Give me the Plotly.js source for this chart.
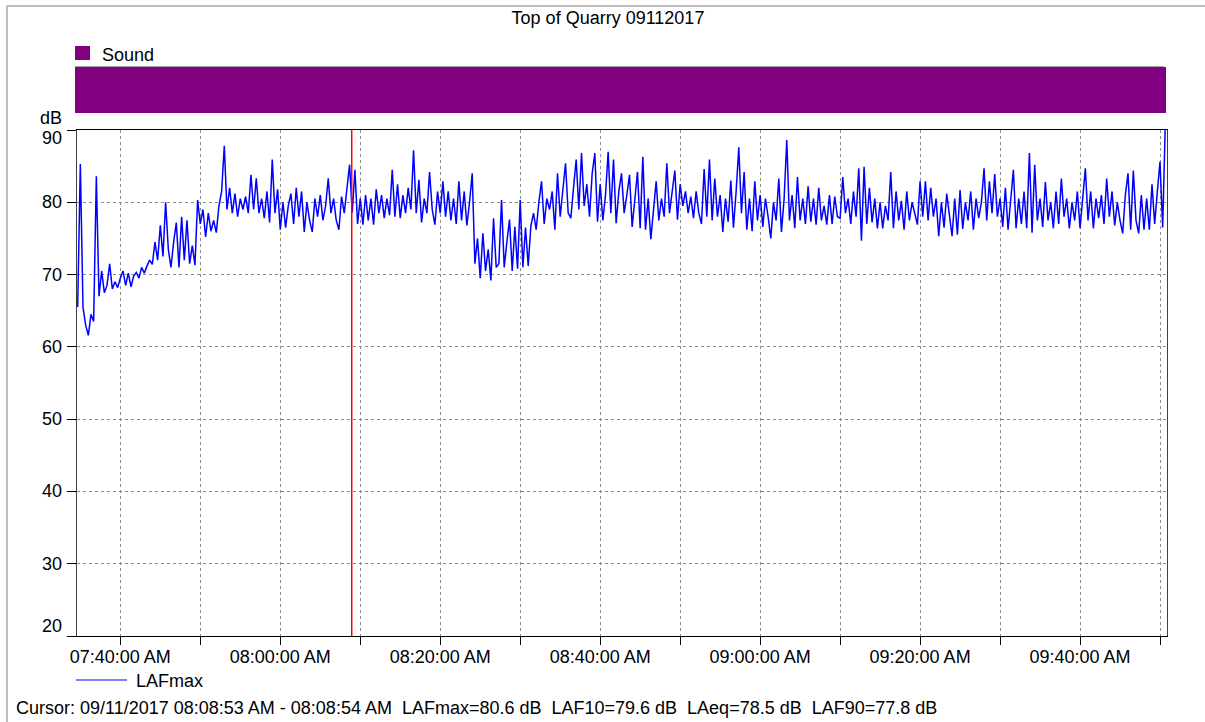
<!DOCTYPE html>
<html><head><meta charset="utf-8">
<script src="https://cdn.plot.ly/plotly-3.0.1.min.js"></script>
<style>html,body{margin:0;padding:0;background:#fff;}#chart{width:1205px;height:722px;}</style>
</head><body><div id="chart"></div>
<script>
// ---- text ----
const chartTitle = 'Top of Quarry 09112017';
const seriesName = 'LAFmax';
const bandLabel = 'Sound';
const yUnit = 'dB';
const cursorText = 'Cursor: 09/11/2017 08:08:53 AM - 08:08:54 AM  LAFmax=80.6 dB  LAF10=79.6 dB  LAeq=78.5 dB  LAF90=77.8 dB';
const cursorTime = '2017-09-11 08:08:56';

// ---- time base ----
const day = '2017-09-11';
const startTime = '07:34:40';
const stepSeconds = 20;
const xRange = ['2017-09-11 07:34:35', '2017-09-11 09:50:52.5'];

// ---- LAFmax values (dB), one every 20 s ----
const lafmax0734 = [65.5,85.3,65.5,63,61.6,64.5,63.5,83.6,67,70.5,
  67.5,68.5,71.5,68,69,68.2,69.5,70.5,68.5,70.2,
  68.3,69.8,70.3,69.5,71,70.2,71.2,72,71.4,74.5,
  72,76.8,72.5,80,73.5,71,74.5,77.2,71,78,
  72,77.5,71.5,74,71.3,80.3,77,79,75.2,78.5,
  76,77.5,75.8,79.5,81.5,87.8,79,82,78.5,81.2,
  78,80.5,79,80.8,78.5,83.8,79];
const lafmax0757 = [83.3,78.5,80.5,77.8,81.5,77.2,85.9,78.5,81.8,76.2,
  80,76.5,79.5,81.2,77,82,78,81.5,75.9,80,
  77.5,75.9,80.5,78,81,77.5,79.5,83.3,78.5,80.5,
  77.5,76.2,80.8,78.5,81.5,85.2,78.6,84.5,77,80.5,
  76.9,81,77.5,80.5,76.9,81.8,78.5,81,77.8,80.5,
  78.2,84.5,78,82.5,77.8,81,78.5,82,79,87.2,
  78.5,83.1,77.2,80.5,78.5,84.2,79,76.9,81.5,78.5,
  82.9,78];
const lafmax0821 = [81.5,77.5,80.5,77,82.9,77.5,81.5,76.8,80,84,
  71.5,75,69.5,75.7,70.5,73.5,69.2,77.8,71,71.5,
  80.3,71,74.5,77.6,70.5,76.6,70.8,80.3,71,76.5,
  71.2,76.7,78.5,76.2,80,82.9,77,80.5,79,81.5,
  76.2,84,78,81.5,85.4,78.5,77.8,82,85.9,79,
  86.8,79.5,82.5,78,84,86.8,77.3,82.5,77.5,81,
  87,78.5,85.9,77.1,81.5,84,78.5,81];
const lafmax0843 = [83.8,76.6,80.5,84.2,76.4,86.3,76.2,80.5,74.9,79,
  82.9,77.5,80.5,78,85.4,78.5,81.5,84.4,77.6,82.5,
  79.5,81.5,78.5,80.8,77.8,81.5,78.5,77,84.6,78,
  85.9,77.5,83.3,78,81,75.9,80.5,77.3,83,76.5,
  81.5,87.6,78.5,84.2,76.2,80.5,76,82.9,77.5,81,
  76.6,80.5,78,75,80,77.5,83.3,75.9,80.5,88.6,
  77.5,81,76.4,83.5,77.5,80.5,77,82.2,77.3];
const lafmax0906 = [80.5,76.9,82,77.5,79.5,76.9,81,77,80.8,78,
  77.8,83.5,78.5,80.5,77,81.5,78,84.7,74.7,84.9,
  77,82,77.2,80.5,76.4,80,76.4,79.5,77.5,84.2,
  76.4,81.5,77.5,80.2,76.2,81.5,77.5,80,78.5,76.9,
  82.9,78,82.9,77.5,82,78,80.5,75.3,80,76.5,
  81.2,77.8,75.3,80.5,75.5,81.7,76.3,80,77.5,81.5,
  76.2,80.5,77.8,80,84.7,77.5,82.9,78.5,83.9,78];
const lafmax0930 = [80.5,76.6,82,76.2,80,84.5,76.4,80.5,77,81.5,
  76.4,86.8,75.8,85.2,77.5,80.5,76.6,82.8,77.5,80,
  76.4,81.5,77,83.3,78,80.5,76.4,80,77.5,81.5,
  76.4,80.5,84.7,77.5,81.5,76.4,80.5,77.8,81,77,
  83.3,78,81.5,76.8,80,77.5,75.7,81,84,76.2,
  84.4,77.5,75.7,81,76.2,80.5,76.2,82.5,77,81.5,
  85.6,76.5,91];

// ---- axes ----
const yTicks = [20,30,40,50,60,70,80,90];
const xTickTimes = ['07:40','07:50','08:00','08:10','08:20','08:30','08:40','08:50','09:00','09:10','09:20','09:30','09:40','09:50'];
const xTickLabels = ['07:40:00 AM','','08:00:00 AM','','08:20:00 AM','','08:40:00 AM','','09:00:00 AM','','09:20:00 AM','','09:40:00 AM',''];

const values = [].concat(lafmax0734, lafmax0757, lafmax0821, lafmax0843, lafmax0906, lafmax0930);
function pad(n){return (n<10?'0':'')+n;}
const sp = startTime.split(':').map(Number);
const startSec = sp[0]*3600+sp[1]*60+sp[2];
const times = values.map((v,i)=>{
  const s = startSec + i*stepSeconds;
  return day+' '+pad(Math.floor(s/3600))+':'+pad(Math.floor(s/60)%60)+':'+pad(s%60);
});

const FONT = 'Liberation Sans, Arial, sans-serif';
const FS = 18;
const W = 1205, H = 722, L = 77, R = 38, T = 130, B = 86;
const PW = W-L-R, PH = H-T-B;
const px = x => (x-L)/PW;          // pixel -> paper x
const py = y => (H-B-y)/PH;        // pixel -> paper y

const trace = {
  x: times, y: values, type: 'scatter', mode: 'lines', name: seriesName,
  line: {color: '#0000ff', width: 1.5}, showlegend: false, hoverinfo: 'x+y'
};

const shapes = [
  // outer frame
  {type:'line', xref:'paper', yref:'paper', x0:px(7), x1:px(7), y0:py(6), y1:py(730), line:{color:'#808080', width:1}},
  {type:'line', xref:'paper', yref:'paper', x0:px(7), x1:px(1215), y0:py(6), y1:py(6), line:{color:'#808080', width:1}},
  // purple band
  {type:'rect', xref:'paper', yref:'paper', x0:px(75), x1:px(1166), y0:py(113), y1:py(67), fillcolor:'#800080', line:{width:0}},
  {type:'line', xref:'paper', yref:'paper', x0:px(75), x1:px(1164), y0:py(67), y1:py(67), line:{color:'#404040', width:1}},
  // Sound legend square
  {type:'rect', xref:'paper', yref:'paper', x0:px(75), x1:px(90), y0:py(60), y1:py(46), fillcolor:'#800080', line:{width:0}},
  // LAFmax legend line
  {type:'line', xref:'paper', yref:'paper', x0:px(76), x1:px(127), y0:py(680), y1:py(680), line:{color:'#0000ff', width:1}},
  // cursor
  {type:'line', xref:'x', yref:'paper', x0:cursorTime, x1:cursorTime, y0:0, y1:1, layer:'above', line:{color:'#ff0000', width:1.5}}
];

const annotations = [
  {xref:'paper', yref:'paper', x:px(100), y:py(55), xanchor:'left', yanchor:'middle', text:bandLabel, showarrow:false, font:{family:FONT, size:FS, color:'#000'}},
  {xref:'paper', yref:'paper', x:px(134), y:py(681), xanchor:'left', yanchor:'middle', text:seriesName, showarrow:false, font:{family:FONT, size:FS, color:'#000'}},
  {xref:'paper', yref:'paper', x:px(14), y:py(708), xanchor:'left', yanchor:'middle', text:cursorText.replace(/  /g,'\u00a0 '), showarrow:false, font:{family:FONT, size:FS, color:'#000'}},
  {xref:'paper', yref:'paper', x:px(64), y:py(118), xanchor:'right', yanchor:'middle', text:yUnit, showarrow:false, font:{family:FONT, size:FS, color:'#000'}}
];
yTicks.forEach(v=>{
  annotations.push({xref:'paper', yref:'y', x:px(64), y:v, xanchor:'right', yanchor:'middle',
    yshift: v===yTicks[yTicks.length-1] ? -8 : (v===yTicks[0] ? 10 : 0),
    text:String(v), showarrow:false, font:{family:FONT, size:FS, color:'#000'}});
});

const layout = {
  width: W, height: H,
  margin: {l:L, r:R, t:T, b:B, pad:0},
  paper_bgcolor: '#fff', plot_bgcolor: '#fff',
  font: {family: FONT, size: FS, color: '#000'},
  title: {text: chartTitle, xref:'container', yref:'container', x: 608/W, y: 1-18/H, xanchor:'center', yanchor:'middle', font:{family:FONT, size:FS, color:'#000'}},
  showlegend: false,
  xaxis: {
    type:'date', range: xRange, fixedrange:true,
    tickmode:'array', tickvals: xTickTimes.map(t=>day+' '+t), ticktext: xTickLabels,
    ticks:'outside', ticklen:8, tickcolor:'#000', tickwidth:1, ticklabelstandoff:-4,
    showgrid:true, gridcolor:'#8c8c8c', griddash:'dot', gridwidth:1,
    showline:true, linecolor:'#000', linewidth:1, mirror:true,
    zeroline:false, tickfont:{family:FONT, size:FS, color:'#000'}
  },
  yaxis: {
    range:[20,90], fixedrange:true,
    tickmode:'array', tickvals:yTicks, showticklabels:false,
    ticks:'outside', ticklen:9, tickcolor:'#000', tickwidth:1,
    showgrid:true, gridcolor:'#8c8c8c', griddash:'dot', gridwidth:1,
    showline:true, linecolor:'#404040', linewidth:1, mirror:true, zeroline:false
  },
  shapes: shapes,
  annotations: annotations
};

Plotly.newPlot('chart', [trace], layout, {displayModeBar:false, staticPlot:true});
</script>
</body></html>
